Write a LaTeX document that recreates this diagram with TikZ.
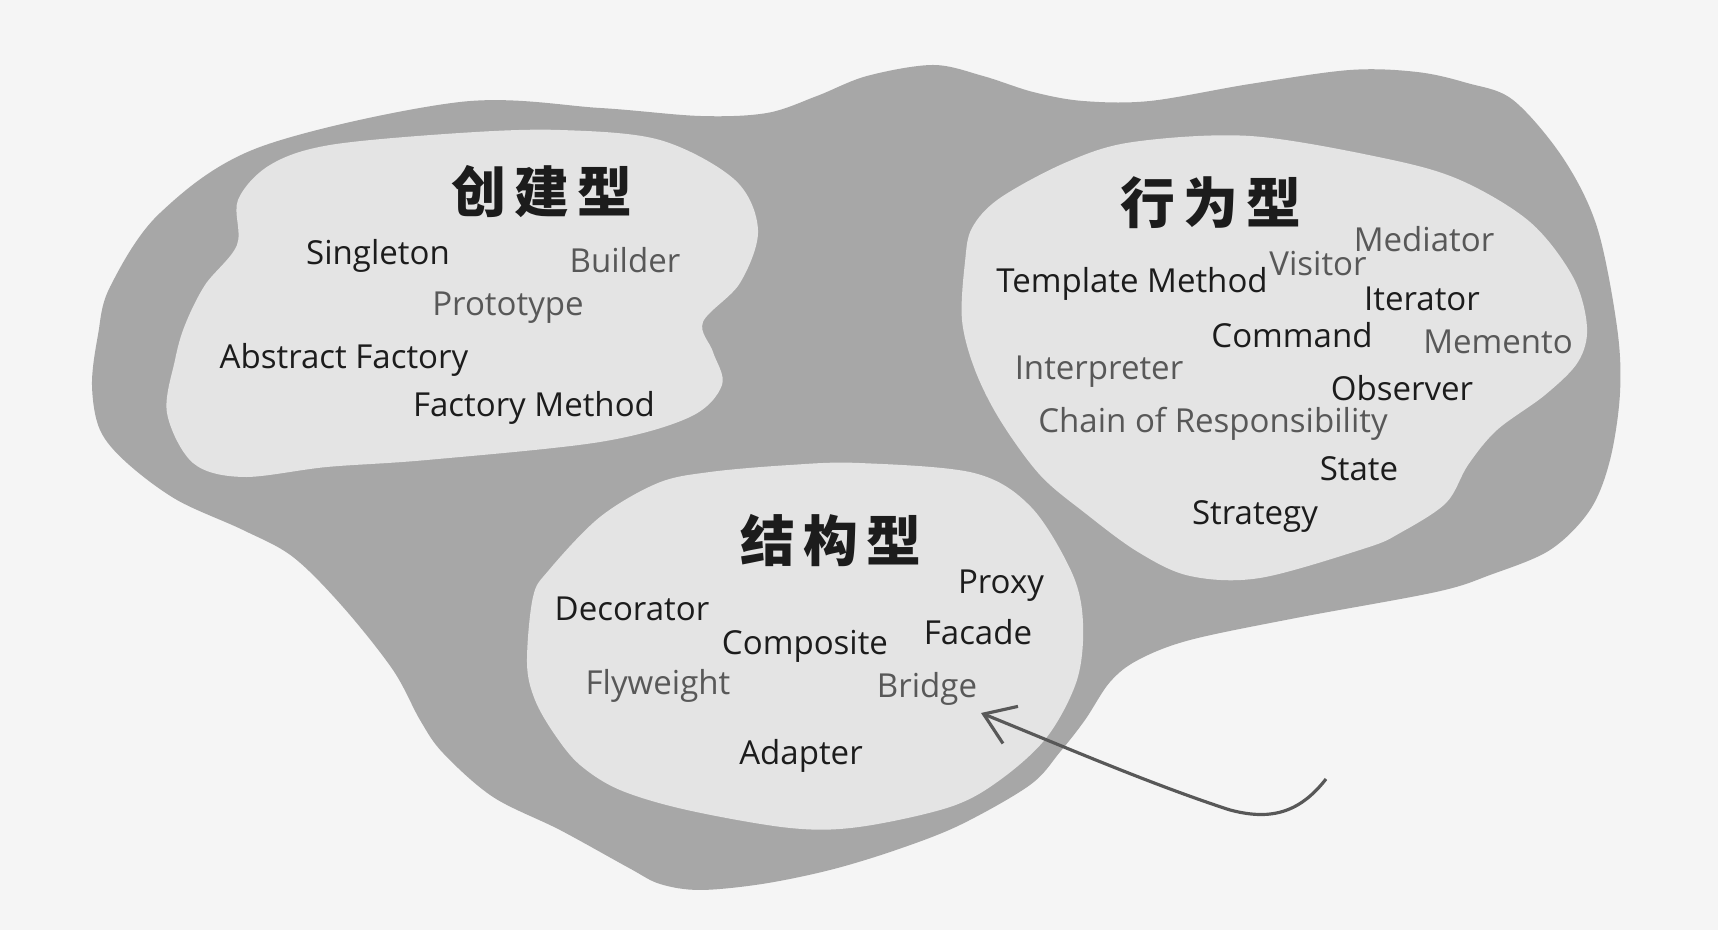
\documentclass[tikz,border=0pt]{standalone}
\usepackage{fontspec}
\usepackage{tikz}
\usetikzlibrary{arrows.meta}
\setmainfont{Open Sans}
\newfontfamily\cjkfont{Noto Sans CJK SC}
\definecolor{paper}{RGB}{245,245,245}
\definecolor{bandgray}{RGB}{167,167,167}
\definecolor{zonegray}{RGB}{228,228,228}
\definecolor{inkblack}{RGB}{28,28,28}
\definecolor{inkgray}{RGB}{88,88,88}
\newcommand{\spreadtitle}[3]{#1\hspace{0.15em}#2\hspace{0.15em}#3}

\begin{document}
\begin{tikzpicture}[x=0.1mm, y=-0.1mm,
    zone/.style={fill=zonegray, draw=none},
    title/.style={font=\cjkfont\bfseries\fontsize{15.6}{18}\selectfont,
                  text=inkblack, inner sep=0pt},
    pat/.style={font=\fontsize{9.4}{11}\selectfont, text=inkblack,
                anchor=base, inner sep=0pt},
    patlight/.style={pat, text=inkgray},
    pointer/.style={draw=inkgray, line width=0.9pt,
                    -{Straight Barb[length=2.9mm, width=4mm]}}]

%% Paper
\fill[paper] (0,0) rectangle (1718,930);
\useasboundingbox (0,0) rectangle (1718,930);

%% Outer band
\fill[bandgray] plot[smooth cycle, tension=0.55] coordinates {
    (92,385) (98,335) (110,287) (160,213) (260,147) (460,102) (600,108)
    (700,116) (767,113) (817,96) (867,76) (933,65) (983,76) (1033,92)
    (1083,101) (1150,101) (1250,84) (1350,70) (1417,72) (1467,83)
    (1513,100) (1563,158) (1597,227) (1617,327) (1620,393) (1610,460)
    (1590,510) (1550,550) (1490,575) (1436,592) (1296,618) (1190,640)
    (1138,660) (1110,682) (1085,720) (1060,752) (1030,785) (960,825)
    (896,850) (830,870) (762,884) (700,890) (660,884) (629,868) (560,830)
    (493,797) (443,753) (420,720) (393,670) (343,607) (293,557) (243,530)
    (177,500) (127,463) (100,430)};

%% Creational zone
\fill[zone] plot[smooth cycle, tension=0.55] coordinates {
    (167,413) (175,360) (185,325) (205,285) (237,245) (238,200) (270,165)
    (330,145) (460,133) (560,130) (660,140) (735,180) (758,230) (740,283)
    (703,322) (713,352) (722,385) (690,417) (600,442) (427,460) (327,467)
    (243,477) (193,463)};

%% Behavioral zone
\fill[zone] plot[smooth cycle, tension=0.55] coordinates {
    (962,320) (965,262) (972,228) (1000,198) (1067,162) (1133,142)
    (1250,136) (1383,158) (1460,180) (1530,222) (1573,277) (1587,327)
    (1578,362) (1545,395) (1497,430) (1468,465) (1446,503) (1400,533)
    (1366,548) (1260,578) (1190,576) (1138,552) (1085,513) (1040,475)
    (1000,420) (975,370)};

%% Structural zone
\fill[zone] plot[smooth cycle, tension=0.55] coordinates {
    (527,663) (533,597) (549,570) (600,517) (658,483) (710,472) (790,465)
    (859,463) (974,473) (1031,507) (1072,573) (1083,623) (1077,680)
    (1047,737) (1000,780) (950,807) (859,827) (790,828) (687,810)
    (620,790) (580,765) (555,735) (535,700)};

%% Creational patterns
\node[title] (creational) at (542,192) {\spreadtitle{创}{建}{型}};
\node[pat]      (singleton) at (378,265) {Singleton};
\node[patlight] (builder)   at (625,273) {Builder};
\node[patlight] (prototype) at (508,316) {Prototype};
\node[pat]      (abstractfactory) at (344,369) {Abstract Factory};
\node[pat]      (factorymethod)   at (534,417) {Factory Method};

%% Behavioral patterns
\node[title] (behavioral) at (1211,203) {\spreadtitle{行}{为}{型}};
\node[patlight] (mediator)    at (1424,252) {Mediator};
\node[patlight] (visitor)     at (1318,276) {Visitor};
\node[pat]      (template)    at (1132,293) {Template Method};
\node[pat]      (iterator)    at (1422,311) {Iterator};
\node[pat]      (command)     at (1292,348) {Command};
\node[patlight] (memento)     at (1498,354) {Memento};
\node[patlight] (interpreter) at (1099,380) {Interpreter};
\node[pat]      (observer)    at (1402,401) {Observer};
\node[patlight] (chain)       at (1213,433) {Chain of Responsibility};
\node[pat]      (state)       at (1359,481) {State};
\node[pat]      (strategy)    at (1255,525) {Strategy};

%% Structural patterns
\node[title] (structural) at (831,541) {\spreadtitle{结}{构}{型}};
\node[pat]      (proxy)     at (1001,594) {Proxy};
\node[pat]      (decorator) at (632,621) {Decorator};
\node[pat]      (facade)    at (978,645) {Facade};
\node[pat]      (composite) at (805,655) {Composite};
\node[patlight] (flyweight) at (658,695) {Flyweight};
\node[patlight] (bridge)    at (927,698) {Bridge};
\node[pat]      (adapter)   at (801,765) {Adapter};

%% Pointer to Bridge
\coordinate (blurred) at (1326,779);
\coordinate (tip) at (981,713);
\draw[pointer] (blurred) .. controls (1298,815) and (1268,820) .. (1230,810)
    .. controls (1150,784) and (1060,745) .. (tip);

\end{tikzpicture}
\end{document}
